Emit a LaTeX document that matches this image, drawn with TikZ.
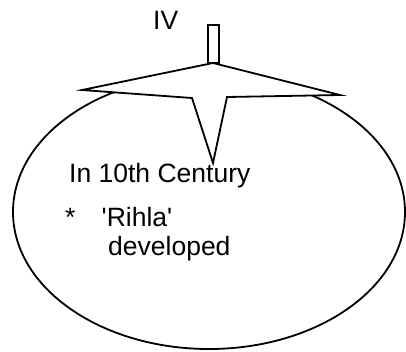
\documentclass[tikz,border=0pt]{standalone}
\usepackage{fontspec}
\setmainfont{Liberation Sans}
\begin{document}
\begin{tikzpicture}[x=1pt,y=-1pt,
  shapeline/.style={draw=black, line width=1.8pt, line join=miter},
  lbl/.style={anchor=base west, inner sep=0pt, font=\fontsize{26.5}{30}\selectfont}]
\useasboundingbox (0,0) rectangle (406,351);
\draw[shapeline] (209,212) ellipse [x radius=196pt, y radius=137pt];
\draw[shapeline, fill=white] (213,63) -- (340,95) -- (227,97) -- (213,163) -- (192,98) -- (82,90) -- cycle;
\draw[shapeline, fill=white] (208,25) rectangle (219,63);
\node[lbl] (iv) at (153,29) {IV};
\node[lbl] (cent) at (69,182.5) {In 10th Century};
\node[lbl] (star) at (65,226.5) {*};
\node[lbl] (rihla) at (101.5,226.5) {\textquotesingle Rihla\textquotesingle};
\node[lbl] (dev) at (108,255) {developed};
\end{tikzpicture}
\end{document}
